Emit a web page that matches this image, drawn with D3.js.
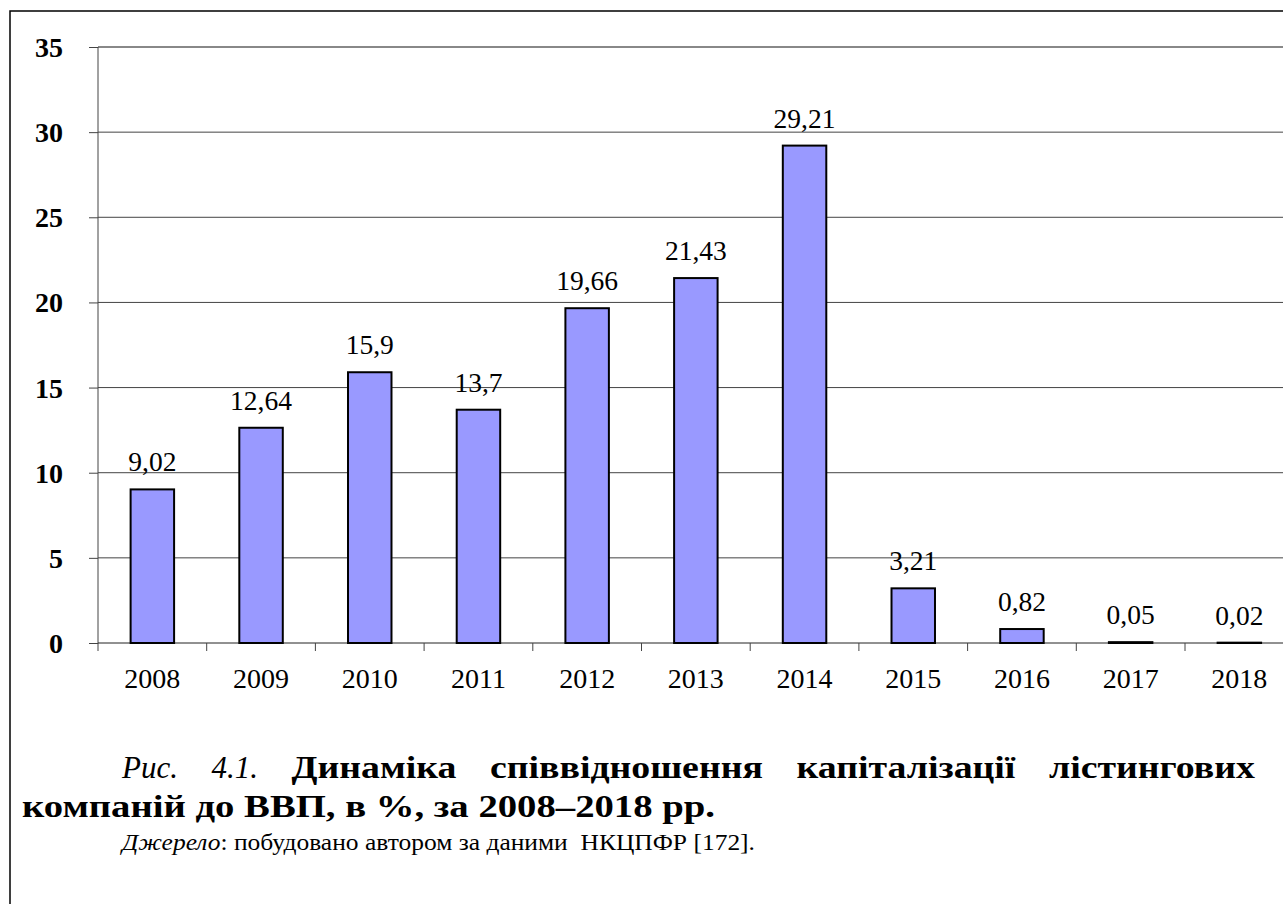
<!DOCTYPE html>
<html><head><meta charset="utf-8">
<script src="https://cdn.jsdelivr.net/npm/d3@7/dist/d3.min.js"></script>
</head><body style="margin:0">
<svg id="c" width="1283" height="904" font-family="Liberation Serif"></svg>
<script>
const years = ["2008","2009","2010","2011","2012","2013","2014","2015","2016","2017","2018"];
const values = [9.02,12.64,15.9,13.7,19.66,21.43,29.21,3.21,0.82,0.05,0.02];
const valueLabels = ["9,02","12,64","15,9","13,7","19,66","21,43","29,21","3,21","0,82","0,05","0,02"];
const yTicks = [0,5,10,15,20,25,30,35];

const F = "Liberation Serif";
const svg = d3.select("#c");

svg.append("rect").attr("x",10).attr("y",11).attr("width",1400).attr("height",1000)
  .attr("fill","none").attr("stroke","#000").attr("stroke-width",1.5);

const x0 = 98, x1 = 98 + 11*108.7;
const y = d3.scaleLinear().domain([0,35]).range([643,47]);
const x = d3.scaleBand().domain(years).range([x0,x1]).paddingInner(0.6).paddingOuter(0.3);
const xb = d3.scaleBand().domain(years).range([x0,x1]);

// gridlines
svg.append("g").selectAll("line").data(yTicks.filter(d=>d>0)).join("line")
  .attr("x1",x0).attr("x2",1290).attr("y1",d=>y(d)).attr("y2",d=>y(d))
  .attr("stroke",d=>d===35?"#888":"#444").attr("stroke-width",d=>d===35?2:1);

// y axis
const ya = svg.append("g").attr("transform",`translate(${x0},0)`)
  .call(d3.axisLeft(y).tickValues(yTicks).tickSize(9).tickPadding(26));
ya.attr("font-family",F).attr("font-size",28).attr("font-weight","bold");
ya.select(".domain").attr("stroke","#444").attr("d",`M0,${y(35)}V651`);
ya.selectAll(".tick line").attr("stroke","#444");
ya.selectAll("text").attr("fill","#000").attr("dy","0.34em");

// x axis
const xa = svg.append("g").attr("transform",`translate(0,${y(0)})`)
  .call(d3.axisBottom(xb).tickSize(0).tickPadding(25));
xa.attr("font-family",F).attr("font-size",28);
xa.select(".domain").attr("stroke","#222").attr("d",`M${x0},0H1290`);
xa.selectAll("text").attr("fill","#000");
svg.append("g").selectAll("line").data(years.slice(1)).join("line")
  .attr("x1",d=>xb(d)).attr("x2",d=>xb(d)).attr("y1",y(0)).attr("y2",y(0)+8)
  .attr("stroke","#444");

// bars
svg.append("g").selectAll("rect").data(values).join("rect")
  .attr("x",(d,i)=>x(years[i])).attr("width",x.bandwidth())
  .attr("y",d=>y(d)).attr("height",d=>y(0)-y(d))
  .attr("fill","#9999FF").attr("stroke","#000").attr("stroke-width",2);

svg.append("g").attr("font-family",F).attr("font-size",27.5)
  .selectAll("text").data(values).join("text")
  .attr("x",(d,i)=>x(years[i])+x.bandwidth()/2).attr("y",d=>y(d)-18)
  .attr("text-anchor","middle")
  .text((d,i)=>valueLabels[i]);

// caption line 1 (justified), bold words slightly widened as in the reference
const cap = svg.append("g").attr("font-family",F);
const words1 = [
  {t:"Рис.",s:"italic",w:"normal"},{t:"4.1.",s:"italic",w:"normal"},
  {t:"Динаміка",s:"normal",w:"bold"},{t:"співвідношення",s:"normal",w:"bold"},
  {t:"капіталізації",s:"normal",w:"bold"},{t:"лістингових",s:"normal",w:"bold"}];
const L = 122, R = 1255, base1 = 778, kB = 1.22;
const nodes = words1.map(wd => cap.append("text").attr("x",0).attr("y",0)
  .attr("font-size",31).attr("font-style",wd.s).attr("font-weight",wd.w).text(wd.t));
const ks = words1.map(wd => wd.w === "bold" ? kB : 1);
const widths = nodes.map((n,i)=>n.node().getComputedTextLength()*ks[i]);
const gap = (R-L-d3.sum(widths))/(nodes.length-1);
let cx = L;
nodes.forEach((n,i)=>{n.attr("transform",`translate(${cx},${base1}) scale(${ks[i]},1)`); cx += widths[i]+gap;});

cap.append("text").attr("x",22).attr("y",817).attr("font-size",31)
  .attr("font-weight","bold").attr("textLength",693).attr("lengthAdjust","spacingAndGlyphs")
  .text("компаній до ВВП, в %, за 2008–2018 рр.");

const src = cap.append("text").attr("x",122).attr("y",850).attr("font-size",24).attr("xml:space","preserve")
  .attr("textLength",633).attr("lengthAdjust","spacingAndGlyphs");
src.append("tspan").attr("font-style","italic").text("Джерело");
src.append("tspan").text(": побудовано автором за даними  НКЦПФР [172].");
</script>
</body></html>
